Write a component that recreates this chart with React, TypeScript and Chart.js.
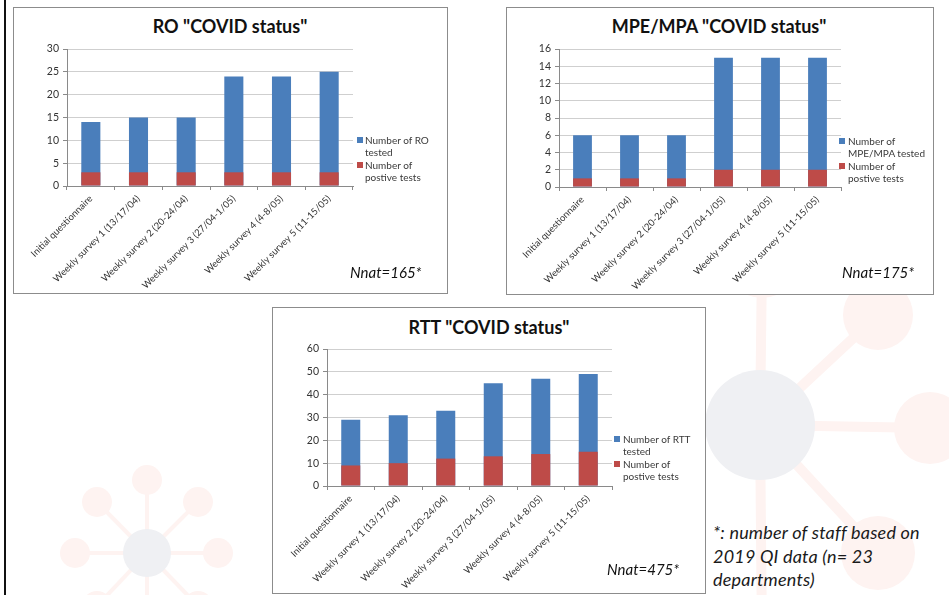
import React, { useEffect, useRef } from "react";
import { Chart, registerables } from "chart.js";

Chart.register(...registerables);

// Survey rounds shared by every panel
const categories = [
  "Initial questionnaire",
  "Weekly survey 1 (13/17/04)",
  "Weekly survey 2 (20-24/04)",
  "Weekly survey 3 (27/04-1/05)",
  "Weekly survey 4 (4-8/05)",
  "Weekly survey 5 (11-15/05)",
];

// RO
const roTested = [14, 15, 15, 24, 24, 25];
const roPositive = [3, 3, 3, 3, 3, 3];

// MPE/MPA
const mpeTested = [6, 6, 6, 15, 15, 15];
const mpePositive = [1, 1, 1, 2, 2, 2];

// RTT
const rttTested = [29, 31, 33, 45, 47, 49];
const rttPositive = [9, 10, 12, 13, 14, 15];

const BLUE = "#4a7ebb";
const RED = "#be4b48";
const FONT = "Lato, 'Open Sans', sans-serif";

type Rect = { left: number; top: number; width: number; height: number };

type PanelProps = {
  box: Rect;
  canvas: Rect;
  padTop: number;
  yWidth: number;
  xHeight: number;
  title: string;
  titleCx: number;
  titleCy: number;
  tested: number[];
  positive: number[];
  yMax: number;
  yStep: number;
  testedLines: string[];
  legendMarkX: number;
  legendTextX: number;
  legendFirstLine: number;
  nnat: string;
  nnatX: number;
  nnatCy: number;
};

function StatusPanel(p: PanelProps) {
  const ref = useRef<HTMLCanvasElement | null>(null);

  useEffect(() => {
    if (!ref.current) return;
    const chart = new Chart(ref.current, {
      type: "bar",
      data: {
        labels: categories,
        datasets: [
          {
            label: p.testedLines.join(" "),
            data: p.tested,
            backgroundColor: BLUE,
            barPercentage: 0.4,
            categoryPercentage: 1,
            order: 1,
          },
          {
            // drawn over the tested bar, sharing its slot
            label: "Number of postive tests",
            data: p.positive,
            backgroundColor: RED,
            barPercentage: 0.4,
            categoryPercentage: 1,
            order: 0,
          },
        ],
      },
      options: {
        animation: false,
        responsive: false,
        maintainAspectRatio: false,
        layout: { padding: { top: p.padTop, left: 0, right: 6, bottom: 0 } },
        plugins: {
          legend: { display: false },
          title: { display: false },
          tooltip: { enabled: false },
        },
        scales: {
          x: {
            stacked: true,
            grid: {
              display: true,
              drawOnChartArea: false,
              drawTicks: true,
              tickLength: 4,
              tickColor: "#8a8a8a",
              offset: true,
            },
            border: { color: "#8a8a8a", width: 1 },
            ticks: {
              autoSkip: false,
              minRotation: 45,
              maxRotation: 45,
              padding: 3,
              color: "#333",
              font: { family: FONT, size: 9.5 },
            },
            afterFit: (s: any) => {
              s.height = p.xHeight;
            },
          },
          y: {
            stacked: false,
            min: 0,
            max: p.yMax,
            ticks: {
              stepSize: p.yStep,
              padding: 4,
              color: "#333",
              font: { family: FONT, size: 10.5 },
            },
            grid: {
              color: "#cfcfcf",
              tickColor: "#8a8a8a",
              tickLength: 4,
            },
            border: { color: "#8a8a8a", width: 1 },
            afterFit: (s: any) => {
              s.width = p.yWidth;
            },
          },
        },
      },
    });
    return () => chart.destroy();
  }, []);

  const lineH = 12.5;
  const legendLines = [p.testedLines, ["Number of", "postive tests"]];

  return (
    <>
      <div
        style={{
          position: "absolute",
          left: p.box.left,
          top: p.box.top,
          width: p.box.width,
          height: p.box.height,
          border: "1px solid #8c8c8c",
          background: "#fff",
          boxSizing: "border-box",
        }}
      />
      <div
        style={{
          position: "absolute",
          left: p.titleCx - 200,
          width: 400,
          top: p.titleCy - 12,
          height: 24,
          lineHeight: "24px",
          textAlign: "center",
          fontFamily: FONT,
          fontWeight: 700,
          fontSize: 18,
          color: "#111",
          whiteSpace: "nowrap",
        }}
      >
        {p.title}
      </div>
      <canvas
        ref={ref}
        width={p.canvas.width}
        height={p.canvas.height}
        style={{
          position: "absolute",
          left: p.canvas.left,
          top: p.canvas.top,
          width: p.canvas.width,
          height: p.canvas.height,
        }}
      />
      {legendLines.map((lines, i) => (
        <React.Fragment key={i}>
          <div
            style={{
              position: "absolute",
              left: p.legendMarkX,
              top: p.legendFirstLine + i * 2 * lineH - 3,
              width: 6,
              height: 6,
              background: i === 0 ? BLUE : RED,
            }}
          />
          {lines.map((t, j) => (
            <div
              key={j}
              style={{
                position: "absolute",
                left: p.legendTextX,
                top: p.legendFirstLine + (i * 2 + j) * lineH - lineH / 2,
                height: lineH,
                lineHeight: `${lineH}px`,
                fontFamily: FONT,
                fontSize: 10,
                color: "#3a3a3a",
                whiteSpace: "nowrap",
              }}
            >
              {t}
            </div>
          ))}
        </React.Fragment>
      ))}
      <div
        style={{
          position: "absolute",
          left: p.nnatX,
          top: p.nnatCy - 10,
          height: 20,
          lineHeight: "20px",
          fontFamily: FONT,
          fontStyle: "italic",
          fontSize: 15,
          color: "#111",
          whiteSpace: "nowrap",
        }}
      >
        {p.nnat}
      </div>
    </>
  );
}

// Faint molecule-like decoration of the slide background
function Hub(props: {
  cx: number;
  cy: number;
  r: number;
  spokes: { x: number; y: number; r: number }[];
  stroke: number;
}) {
  const pink = "#fef3f1";
  return (
    <>
      {props.spokes.map((s, i) => {
        const dx = s.x - props.cx;
        const dy = s.y - props.cy;
        const len = Math.sqrt(dx * dx + dy * dy);
        const ang = (Math.atan2(dy, dx) * 180) / Math.PI;
        return (
          <React.Fragment key={i}>
            <div
              style={{
                position: "absolute",
                left: props.cx,
                top: props.cy - props.stroke / 2,
                width: len,
                height: props.stroke,
                background: pink,
                transformOrigin: "0 50%",
                transform: `rotate(${ang}deg)`,
              }}
            />
            <div
              style={{
                position: "absolute",
                left: s.x - s.r,
                top: s.y - s.r,
                width: s.r * 2,
                height: s.r * 2,
                borderRadius: "50%",
                background: pink,
              }}
            />
          </React.Fragment>
        );
      })}
      <div
        style={{
          position: "absolute",
          left: props.cx - props.r,
          top: props.cy - props.r,
          width: props.r * 2,
          height: props.r * 2,
          borderRadius: "50%",
          background: "#eff0f3",
        }}
      />
    </>
  );
}

export default function App() {
  return (
    <div
      style={{
        position: "fixed",
        left: 0,
        top: 0,
        width: 949,
        height: 595,
        background: "#fff",
        overflow: "hidden",
      }}
    >
      <Hub
        cx={147}
        cy={553}
        r={24}
        stroke={4}
        spokes={[
          { x: 147, y: 480, r: 15 },
          { x: 97, y: 502, r: 15 },
          { x: 198, y: 502, r: 15 },
          { x: 75, y: 553, r: 15 },
          { x: 218, y: 553, r: 15 },
          { x: 97, y: 606, r: 15 },
          { x: 198, y: 606, r: 15 },
          { x: 147, y: 626, r: 15 },
        ]}
      />
      <Hub
        cx={760}
        cy={425}
        r={55}
        stroke={10}
        spokes={[
          { x: 762, y: 262, r: 36 },
          { x: 878, y: 315, r: 35 },
          { x: 930, y: 428, r: 36 },
          { x: 878, y: 553, r: 37 },
          { x: 762, y: 640, r: 36 },
          { x: 600, y: 425, r: 36 },
        ]}
      />

      {/* left rule of the slide */}
      <div
        style={{
          position: "absolute",
          left: 4,
          top: 0,
          width: 2,
          height: 595,
          background: "#111",
        }}
      />

      <StatusPanel
        box={{ left: 13, top: 7, width: 435, height: 287 }}
        canvas={{ left: 14, top: 38, width: 345, height: 254 }}
        padTop={11}
        yWidth={53}
        xHeight={106}
        title={'RO "COVID status"'}
        titleCx={230}
        titleCy={26}
        tested={roTested}
        positive={roPositive}
        yMax={30}
        yStep={5}
        testedLines={["Number of RO", "tested"]}
        legendMarkX={357}
        legendTextX={365}
        legendFirstLine={140}
        nnat="Nnat=165*"
        nnatX={350}
        nnatCy={272}
      />
      <StatusPanel
        box={{ left: 506, top: 7, width: 428, height: 288 }}
        canvas={{ left: 507, top: 38, width: 340, height: 255 }}
        padTop={11}
        yWidth={52}
        xHeight={106}
        title={'MPE/MPA "COVID status"'}
        titleCx={719}
        titleCy={26}
        tested={mpeTested}
        positive={mpePositive}
        yMax={16}
        yStep={2}
        testedLines={["Number of", "MPE/MPA tested"]}
        legendMarkX={839}
        legendTextX={848}
        legendFirstLine={141}
        nnat="Nnat=175*"
        nnatX={842}
        nnatCy={272}
      />
      <StatusPanel
        box={{ left: 272, top: 307, width: 434, height: 287 }}
        canvas={{ left: 273, top: 338, width: 345, height: 254 }}
        padTop={11}
        yWidth={54}
        xHeight={106}
        title={'RTT "COVID status"'}
        titleCx={489}
        titleCy={327}
        tested={rttTested}
        positive={rttPositive}
        yMax={60}
        yStep={10}
        testedLines={["Number of RTT", "tested"]}
        legendMarkX={614}
        legendTextX={623}
        legendFirstLine={439}
        nnat="Nnat=475*"
        nnatX={607}
        nnatCy={569}
      />

      <div
        style={{
          position: "absolute",
          left: 713,
          top: 521,
          width: 236,
          fontFamily: FONT,
          fontStyle: "italic",
          fontSize: 18,
          letterSpacing: "0.2px",
          lineHeight: "23.5px",
          color: "#1a1a1a",
          whiteSpace: "nowrap",
        }}
      >
        *: number of staff based on
        <br />
        2019 QI data (n= 23
        <br />
        departments)
      </div>
    </div>
  );
}
